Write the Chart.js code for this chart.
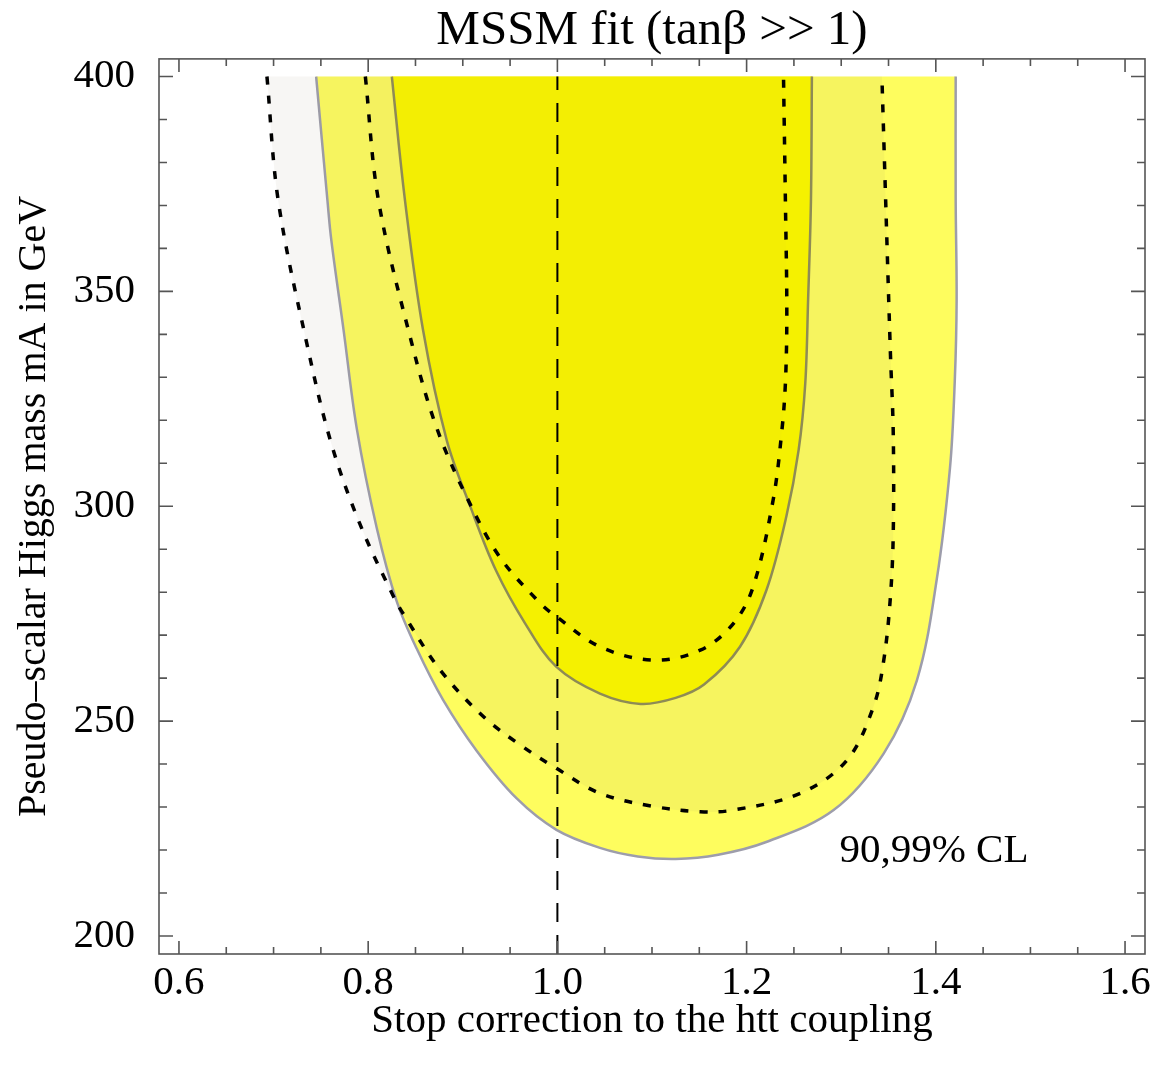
<!DOCTYPE html>
<html>
<head>
<meta charset="utf-8">
<title>MSSM fit</title>
<script src="https://cdn.jsdelivr.net/npm/chart.js@4.4.0/dist/chart.umd.min.js"></script>
<style>
  html, body { margin: 0; padding: 0; background: #fff; }
  #wrap { width: 1156px; height: 1066px; }
</style>
</head>
<body>
<div id="wrap"><canvas id="fitChart"></canvas></div>
<script>
// 99% CL region, solid outline
const outer99X = [0.745, 0.757, 0.761, 0.774, 0.788, 0.809, 0.830, 0.851, 0.879, 0.915, 0.957, 0.999, 1.045, 1.085, 1.125, 1.170, 1.220, 1.292, 1.345, 1.380, 1.401, 1.415, 1.420, 1.422, 1.421, 1.421];
const outer99Y = [400, 371, 362, 341, 318, 295, 278, 267, 255, 243, 232, 224.7, 220.5, 218.5, 217.9, 218.9, 221.8, 229.3, 242.5, 259.5, 283, 309, 329, 348, 371, 400];

// 90% CL region, solid outline
const inner90X = [0.825, 0.839, 0.858, 0.883, 0.908, 0.935, 0.966, 0.999, 1.045, 1.088, 1.125, 1.155, 1.193, 1.221, 1.242, 1.255, 1.262, 1.265, 1.268, 1.269];
const inner90Y = [400, 371, 341, 315.4, 299.9, 285.1, 272.7, 262.6, 256.4, 254, 255.4, 258.5, 267.3, 280.5, 297.6, 313.1, 328.6, 348, 371, 400];

// 99% CL, dotted contour
const outerDotX = [0.693, 0.705, 0.735, 0.761, 0.791, 0.827, 0.839, 0.876, 0.922, 0.961, 0.999, 1.045, 1.100, 1.151, 1.186, 1.257, 1.306, 1.334, 1.345, 1.352, 1.355, 1.355, 1.352, 1.347, 1.343];
const outerDotY = [400, 371, 338, 314.6, 296, 278.9, 274.3, 261.9, 251, 244.4, 239, 233.2, 230.2, 228.9, 229.3, 233.2, 240.9, 253.3, 264.2, 278.9, 293.7, 317, 335.6, 371, 400];

// 90% CL, dotted contour
const innerDotX = [0.797, 0.811, 0.846, 0.872, 0.904, 0.939, 0.982, 0.999, 1.045, 1.101, 1.151, 1.186, 1.207, 1.228, 1.237, 1.241, 1.2425, 1.241, 1.239];
const innerDotY = [400, 371, 338, 318.5, 302.2, 288.2, 277.4, 274.3, 267.3, 264.2, 266.5, 272.7, 281.3, 301.4, 317, 328.6, 345, 371, 400];

// SM value of the coupling
const refLineX = [1.0, 1.0];
const refLineY = [195.8, 400];

const xTicks = [0.6, 0.8, 1.0, 1.2, 1.4, 1.6];
const yTicks = [200, 250, 300, 350, 400];

const clLabel = '90,99% CL';
const clLabelX = 1.398;
const clLabelY = 219.7;

const serif = 'Liberation Serif';

function pts(xs, ys) {
  return xs.map((x, i) => ({ x: x, y: ys[i] }));
}

// minor ticks every 0.05 / 10 GeV
const xMinor = [];
for (let i = 0; i <= 20; i++) xMinor.push(0.6 + i * 0.05);
const yMinor = [];
for (let i = 0; i <= 20; i++) yMinor.push(200 + i * 10);

// Mathematica style frame: ticks inward on all four sides
const frame = {
  id: 'frame',
  afterDatasetsDraw(chart) {
    const { ctx, chartArea: a, scales: { x, y } } = chart;
    ctx.save();
    ctx.strokeStyle = '#555';
    ctx.lineWidth = 1.6;
    ctx.beginPath();
    xMinor.forEach(v => {
      const p = x.getPixelForValue(v);
      const len = Math.abs(v * 5 - Math.round(v * 5)) < 1e-6 ? 13 : 7;
      ctx.moveTo(p, a.bottom);
      ctx.lineTo(p, a.bottom - len);
      ctx.moveTo(p, a.top);
      ctx.lineTo(p, a.top + len);
    });
    yMinor.forEach(v => {
      const p = y.getPixelForValue(v);
      const len = v % 50 === 0 ? 14 : 8;
      ctx.moveTo(a.left, p);
      ctx.lineTo(a.left + len, p);
      ctx.moveTo(a.right, p);
      ctx.lineTo(a.right - len, p);
    });
    ctx.stroke();
    ctx.strokeRect(a.left, a.top, a.width, a.height);

    ctx.fillStyle = '#000';
    ctx.font = '41px "' + serif + '"';
    ctx.textAlign = 'center';
    ctx.textBaseline = 'middle';
    ctx.fillText(clLabel, x.getPixelForValue(clLabelX), y.getPixelForValue(clLabelY));
    ctx.restore();
  }
};

const ctx = document.getElementById('fitChart');

new Chart(ctx, {
  type: 'scatter',
  data: {
    datasets: [
      {
        label: '99% CL',
        data: pts(outer99X, outer99Y),
        showLine: true,
        fill: 'shape',
        backgroundColor: '#fefd5e',
        borderColor: '#9d9dab',
        borderWidth: 2.5,
        pointRadius: 0,
        tension: 0.35,
        order: 5,
      },
      {
        label: '99% CL dotted',
        data: pts(outerDotX, outerDotY),
        showLine: true,
        fill: 'shape',
        backgroundColor: 'rgba(150,140,120,0.08)',
        borderColor: '#000',
        borderDash: [8, 11],
        borderWidth: 3.5,
        pointRadius: 0,
        tension: 0.35,
        order: 4,
      },
      {
        label: '90% CL',
        data: pts(inner90X, inner90Y),
        showLine: true,
        fill: 'shape',
        backgroundColor: '#f5f100',
        borderColor: '#8e8b55',
        borderWidth: 2.5,
        pointRadius: 0,
        tension: 0.35,
        order: 3,
      },
      {
        label: '90% CL dotted',
        data: pts(innerDotX, innerDotY),
        showLine: true,
        fill: 'shape',
        backgroundColor: 'rgba(150,140,120,0.025)',
        borderColor: '#000',
        borderDash: [8, 11],
        borderWidth: 3.5,
        pointRadius: 0,
        tension: 0.35,
        order: 2,
      },
      {
        label: 'SM',
        data: pts(refLineX, refLineY),
        showLine: true,
        fill: false,
        borderColor: '#000',
        borderDash: [19, 13],
        borderWidth: 2,
        pointRadius: 0,
        order: 1,
      },
    ],
  },
  options: {
    responsive: true,
    maintainAspectRatio: false,
    animation: false,
    events: [],
    layout: { padding: { right: 11 } },
    plugins: {
      legend: { display: false },
      tooltip: { enabled: false },
      title: {
        display: true,
        fullSize: false,
        text: 'MSSM fit (tan\u03b2 >> 1)',
        color: '#000',
        font: { family: serif, size: 49, weight: 'normal', lineHeight: 1.1 },
        padding: { top: 4, bottom: 1 },
      },
    },
    scales: {
      x: {
        type: 'linear',
        min: 0.5789,
        max: 1.6211,
        afterBuildTicks: s => { s.ticks = xTicks.map(v => ({ value: v })); },
        afterFit: s => { s.height = 112; },
        grid: { display: false },
        border: { display: false },
        ticks: {
          color: '#000',
          font: { family: serif, size: 41 },
          padding: -3,
          maxRotation: 0,
          autoSkip: false,
          callback: v => v.toFixed(1),
        },
        title: {
          display: true,
          text: 'Stop correction to the htt coupling',
          color: '#000',
          font: { family: serif, size: 41 },
          padding: { top: 0, bottom: 20 },
        },
      },
      y: {
        type: 'linear',
        min: 195.8,
        max: 404.1,
        afterBuildTicks: s => { s.ticks = yTicks.map(v => ({ value: v })); },
        afterFit: s => { s.width = 159; },
        grid: { display: false },
        border: { display: false },
        ticks: {
          color: '#000',
          font: { family: serif, size: 41 },
          padding: 16,
          autoSkip: false,
          callback: v => String(v),
        },
        title: {
          display: true,
          text: 'Pseudo\u2013scalar Higgs mass mA in GeV',
          color: '#000',
          font: { family: serif, size: 40 },
          padding: { top: 10, bottom: 0 },
        },
      },
    },
  },
  plugins: [frame],
});
</script>
</body>
</html>
